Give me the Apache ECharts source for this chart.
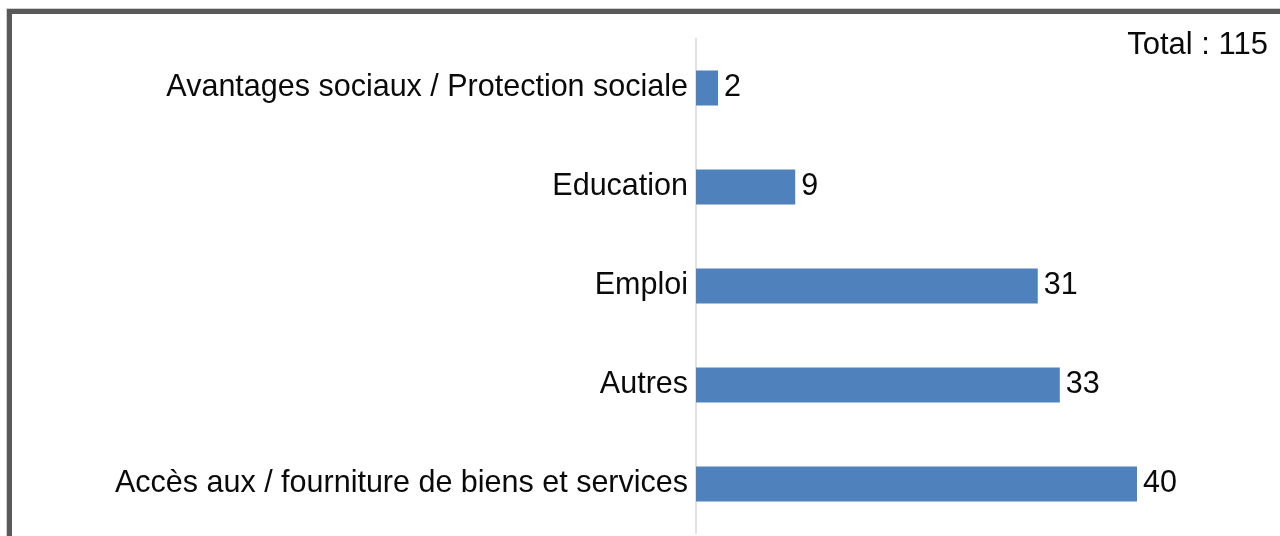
<!DOCTYPE html>
<html>
<head>
<meta charset="utf-8">
<script src="https://cdn.jsdelivr.net/npm/echarts@6/dist/echarts.min.js"></script>
<style>
html,body{margin:0;padding:0;background:#fff;}
#chart{width:1280px;height:536px;}
</style>
</head>
<body>
<div id="chart"></div>
<script>
const categories = [
  "Avantages sociaux / Protection sociale",
  "Education",
  "Emploi",
  "Autres",
  "Accès aux / fourniture de biens et services"
];
const values = [2, 9, 31, 33, 40];
const totalLabel = "Total : 115";

const FONT = "'Liberation Sans', Arial, Helvetica, sans-serif";
const chart = echarts.init(document.getElementById('chart'), null, {renderer: 'canvas'});
chart.setOption({
  backgroundColor: '#ffffff',
  animation: false,
  grid: {left: 696, top: 38.5, width: 441, height: 495, containLabel: false},
  xAxis: {
    type: 'value', min: 0, max: 40, show: false
  },
  yAxis: {
    type: 'category', data: categories, inverse: true,
    axisLine: {show: true, lineStyle: {color: '#d9d9d9', width: 1.5}},
    axisTick: {show: false},
    axisLabel: {color: '#0a0a0a', fontSize: 30.5, fontFamily: FONT, margin: 8}
  },
  series: [{
    type: 'bar', data: values, barWidth: 35,
    itemStyle: {color: '#4f81bd'},
    label: {show: true, position: 'right', distance: 6, color: '#0a0a0a', fontSize: 30.5, fontFamily: FONT}
  }],
  graphic: [
    {type: 'rect', shape: {x: 9.5, y: 11.5, width: 1300, height: 600}, style: {fill: 'none', stroke: '#595959', lineWidth: 5}, z: 10},
    {type: 'rect', shape: {x: 6.5, y: 8.5, width: 1300, height: 600}, style: {fill: 'none', stroke: '#d0d0d0', lineWidth: 1}, z: 10},
    {type: 'text', right: 12, top: 30, style: {text: totalLabel, fill: '#0a0a0a', font: '31px ' + FONT}, z: 10}
  ]
});
</script>
</body>
</html>
